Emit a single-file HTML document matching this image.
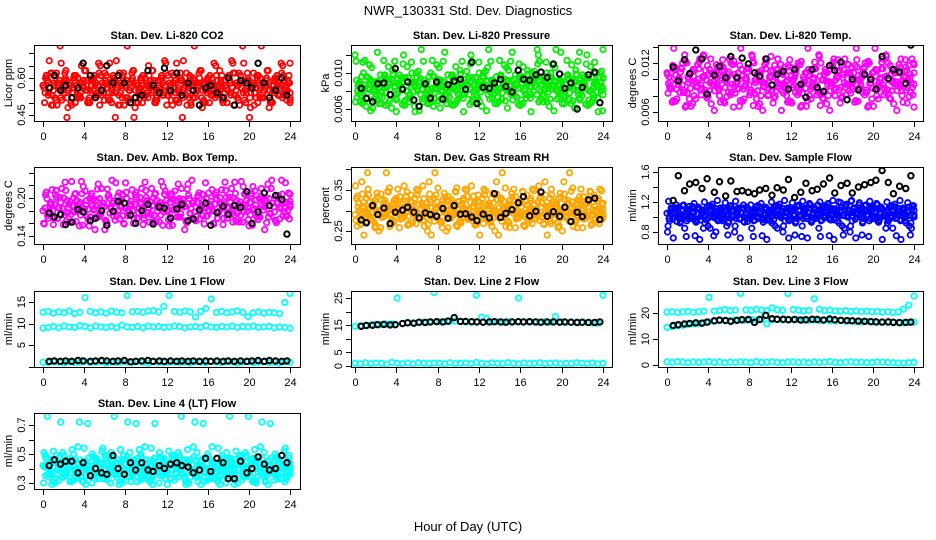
<!DOCTYPE html>
<html><head><meta charset="utf-8"><style>
html,body{margin:0;padding:0;background:#fff;}
svg{display:block;font-family:"Liberation Sans",sans-serif;}
</style></head><body>
<svg id="chart" width="936" height="540" xmlns="http://www.w3.org/2000/svg">
<rect width="936" height="540" fill="#fff"/>
<text x="468" y="15" text-anchor="middle" font-size="13">NWR_130331  Std. Dev. Diagnostics</text>
<text x="468" y="531" text-anchor="middle" font-size="13">Hour of Day (UTC)</text>
</svg>
<script>
const blackHours=[0.6,1.1,1.7,2.2,2.8,3.4,3.9,4.6,5.1,5.7,6.2,6.8,7.3,7.9,8.5,9.0,9.6,10.2,10.7,11.3,11.8,12.4,13.0,13.5,14.1,14.6,15.2,15.8,16.3,16.9,17.5,18.0,18.6,19.2,19.8,20.3,20.9,21.5,22.0,22.6,23.2,23.7];
const xTicks=[0,4,8,12,16,20,24];

const co2=[0.57,0.60,0.53,0.62,0.55,0.51,0.58,0.66,0.54,0.59,0.56,0.49,0.61,0.57,0.52,0.58,0.63,0.55,0.50,0.60,0.57,0.53,0.65,0.56,0.59,0.52,0.57,0.61,0.54,0.49,0.58,0.62,0.56,0.51,0.59,0.44,0.57,0.54,0.60,0.52,0.58,0.56,0.63,0.50,0.55,0.59,0.53,0.57,0.61,0.54,0.58,0.51,0.56,0.60,0.67,0.53,0.57,0.49,0.59,0.55,0.62,0.52,0.58,0.56,0.50,0.60,0.54,0.57,0.63,0.51,0.59,0.55,0.58,0.66,0.53,0.57,0.61,0.54,0.50,0.59,0.56,0.62,0.52,0.58,0.73,0.55,0.60,0.48,0.57,0.54,0.61,0.56,0.52,0.59,0.55,0.50];
const co2Black=[0.56,0.61,0.55,0.57,0.52,0.56,0.66,0.61,0.52,0.55,0.65,0.58,0.61,0.58,0.50,0.52,0.53,0.63,0.57,0.54,0.64,0.55,0.62,0.53,0.58,0.55,0.49,0.56,0.57,0.54,0.52,0.60,0.49,0.59,0.58,0.56,0.66,0.58,0.52,0.55,0.60,0.53];

const pressure=[0.0120,0.0080,0.0068,0.0112,0.0087,0.0095,0.0058,0.0082,0.0073,0.0090,0.0066,0.0114,0.0078,0.0093,0.0061,0.0085,0.0070,0.0098,0.0083,0.0064,0.0107,0.0076,0.0089,0.0057,0.0080,0.0094,0.0068,0.0086,0.0075,0.0100,0.0063,0.0082,0.0091,0.0071,0.0088,0.0066,0.0079,0.0097,0.0084,0.0069,0.0092,0.0113,0.0077,0.0087,0.0065,0.0095,0.0080,0.0072,0.0090,0.0085,0.0102,0.0076,0.0113,0.0088,0.0081,0.0068,0.0096,0.0087,0.0106,0.0079,0.0091,0.0084,0.0073,0.0098,0.0089,0.0082,0.0103,0.0076,0.0093,0.0086,0.0110,0.0070,0.0095,0.0088,0.0079,0.0100,0.0085,0.0126,0.0092,0.0077,0.0096,0.0083,0.0071,0.0109,0.0090,0.0081,0.0123,0.0075,0.0087,0.0094,0.0066,0.0082,0.0099,0.0072,0.0089,0.0095];
const pressureBlack=[0.0083,0.0072,0.0068,0.0088,0.0089,0.0076,0.0105,0.0082,0.0090,0.0070,0.0063,0.0088,0.0072,0.0090,0.0071,0.0087,0.0091,0.0093,0.0082,0.0112,0.0066,0.0084,0.0083,0.0089,0.0093,0.0085,0.0079,0.0103,0.0093,0.0092,0.0098,0.0101,0.0095,0.0110,0.0099,0.0083,0.0089,0.0060,0.0084,0.0098,0.0101,0.0067];

const temp=[0.0108,0.0091,0.0072,0.0115,0.0098,0.0084,0.0120,0.0066,0.0103,0.0089,0.0112,0.0076,0.0100,0.0093,0.0130,0.0083,0.0106,0.0070,0.0097,0.0118,0.0087,0.0102,0.0111,0.0079,0.0125,0.0094,0.0106,0.0088,0.0117,0.0073,0.0100,0.0109,0.0084,0.0122,0.0096,0.0067,0.0104,0.0091,0.0113,0.0081,0.0128,0.0099,0.0086,0.0108,0.0062,0.0095,0.0080,0.0110,0.0071,0.0102,0.0090,0.0118,0.0083,0.0097,0.0074,0.0105,0.0093,0.0114,0.0087,0.0068,0.0100,0.0109,0.0080,0.0096,0.0121,0.0089,0.0104,0.0077,0.0112,0.0094,0.0086,0.0115,0.0099,0.0124,0.0090,0.0106,0.0081,0.0118,0.0095,0.0108,0.0138,0.0088,0.0102,0.0113,0.0084,0.0120,0.0076,0.0098,0.0111,0.0092,0.0125,0.0103,0.0087,0.0117,0.0096,0.0108];
const tempBlack=[0.0115,0.0098,0.0124,0.0107,0.0136,0.0125,0.0082,0.0105,0.0116,0.0102,0.0128,0.0102,0.0126,0.0119,0.0108,0.0104,0.0125,0.0093,0.0106,0.0110,0.0088,0.0112,0.0094,0.0078,0.0112,0.0090,0.0085,0.0117,0.0111,0.0121,0.0075,0.0100,0.0087,0.0106,0.0100,0.0088,0.0128,0.0101,0.0112,0.0109,0.0095,0.0142];

const ambTemp=[0.180,0.205,0.168,0.193,0.158,0.212,0.185,0.174,0.200,0.163,0.190,0.226,0.178,0.196,0.156,0.207,0.183,0.170,0.199,0.188,0.150,0.214,0.176,0.192,0.165,0.203,0.186,0.172,0.224,0.181,0.195,0.160,0.209,0.177,0.190,0.168,0.201,0.184,0.215,0.173,0.196,0.162,0.188,0.206,0.179,0.193,0.157,0.211,0.182,0.170,0.198,0.187,0.222,0.175,0.192,0.164,0.204,0.183,0.195,0.171,0.208,0.186,0.159,0.199,0.179,0.213,0.190,0.168,0.201,0.184,0.225,0.176,0.194,0.162,0.207,0.185,0.173,0.218,0.189,0.166,0.203,0.181,0.197,0.170,0.215,0.186,0.161,0.199,0.228,0.178,0.193,0.167,0.206,0.184,0.172,0.190];
const ambTempBlack=[0.176,0.170,0.174,0.158,0.162,0.182,0.178,0.164,0.168,0.180,0.157,0.179,0.195,0.192,0.173,0.160,0.180,0.190,0.159,0.186,0.184,0.168,0.183,0.190,0.164,0.167,0.181,0.192,0.157,0.177,0.187,0.174,0.188,0.185,0.210,0.160,0.178,0.208,0.188,0.204,0.198,0.143];

const rh=[0.290,0.335,0.268,0.310,0.295,0.352,0.280,0.318,0.262,0.300,0.340,0.285,0.392,0.307,0.275,0.325,0.294,0.258,0.315,0.288,0.345,0.302,0.270,0.330,0.296,0.282,0.360,0.308,0.266,0.320,0.291,0.338,0.278,0.312,0.298,0.250,0.326,0.287,0.305,0.355,0.272,0.316,0.293,0.334,0.281,0.309,0.264,0.322,0.297,0.284,0.348,0.303,0.276,0.318,0.292,0.240,0.330,0.289,0.311,0.270,0.342,0.299,0.283,0.325,0.294,0.261,0.314,0.305,0.352,0.279,0.320,0.296,0.286,0.338,0.302,0.268,0.315,0.291,0.329,0.283,0.370,0.307,0.274,0.321,0.295,0.258,0.333,0.300,0.286,0.318,0.347,0.292,0.277,0.324,0.303,0.289];
const rhBlack=[0.277,0.270,0.312,0.290,0.306,0.268,0.296,0.301,0.308,0.296,0.282,0.294,0.290,0.286,0.305,0.281,0.312,0.291,0.292,0.284,0.275,0.291,0.282,0.341,0.283,0.293,0.302,0.319,0.334,0.287,0.298,0.345,0.286,0.297,0.286,0.308,0.273,0.296,0.285,0.326,0.330,0.278];

const sampleFlow=[1.05,0.95,1.12,1.00,1.08,0.92,1.15,1.03,0.98,1.10,1.06,0.94,1.13,1.01,0.85,1.07,0.99,1.14,0.75,1.04,0.96,1.09,1.02,0.88,1.11,1.00,0.80,1.06,0.97,1.12,1.03,0.94,1.08,1.01,1.10,0.98,1.05,0.93,1.13,1.02,1.07,0.96,1.15,1.04,0.99,1.11,1.06,0.95,1.09,1.02,1.14,1.00,0.88,1.07,0.72,1.12,1.03,0.98,1.16,0.74,1.08,1.01,1.18,0.96,1.10,1.05,1.20,1.13,1.02,1.17,1.08,1.22,1.11,1.04,1.19,0.76,1.15,1.09,1.21,1.12,1.06,1.16,0.99,1.10,1.03,0.95,1.14,1.07,0.98,1.11,0.70,1.05,0.92,1.13,0.85,1.02];
const sampleFlowBlack=[1.22,1.55,1.35,1.44,1.46,1.38,1.51,1.33,1.47,1.28,1.48,1.34,1.35,1.33,1.31,1.36,1.38,1.29,1.39,1.36,1.50,1.26,1.33,1.45,1.35,1.37,1.44,1.52,1.32,1.42,1.45,1.32,1.40,1.43,1.46,1.49,1.62,1.46,1.31,1.41,1.38,1.55];

const line1High=[12.6,12.8,12.4,12.7,12.5,12.9,12.3,12.6,16.0,12.8,12.5,12.7,12.4,12.9,12.6,12.5,16.5,12.7,12.8,12.6,12.9,13.0,12.7,14.0,16.5,12.8,12.6,12.9,12.7,11.5,12.8,13.5,15.7,12.6,12.8,12.5,12.7,12.9,12.6,11.6,12.5,12.7,12.4,12.6,12.5,12.3,14.9,17.0];
const line1Mid=[8.9,9.1,9.3,9.0,9.4,9.2,9.1,9.5,9.3,9.0,9.4,9.2,9.1,9.3,9.0,9.6,9.2,9.1,9.3,9.0,9.4,9.2,9.3,9.1,9.2,9.4,9.3,9.0,9.2,9.3,9.1,9.5,9.2,9.1,9.3,9.2,9.4,9.1,9.3,9.2,9.4,9.1,9.2,9.3,9.0,9.2,9.1,8.9];
const line1Low=[1.0,0.9,1.1,1.0,0.8,1.1,0.9,1.0,1.2,0.9,1.0,1.1,0.8,1.0,0.9,1.1,1.0,0.9,1.2,1.0,0.8,1.1,1.0,0.9,1.0,1.1,0.9,1.0,0.8,1.1,1.0,0.9,1.2,1.0,0.9,1.1,1.0,0.8,1.0,1.1,0.9,1.0,1.1,0.9,1.0,0.8,1.1,1.0];
const line1Black=[1.2,1.3,1.2,1.3,1.2,1.4,1.3,1.2,1.3,1.4,1.3,1.2,1.3,1.4,1.1,1.2,1.3,1.4,1.2,1.3,1.2,1.3,1.2,1.3,1.2,1.3,1.2,1.3,1.2,1.3,1.2,1.3,1.2,1.3,1.2,1.3,1.4,1.2,1.4,1.3,1.2,1.3];

const line2High=[14.6,14.8,15.0,15.1,15.3,15.2,15.4,15.5,25.0,15.7,15.8,15.9,16.0,16.2,16.1,27.0,16.3,16.2,16.4,16.5,16.3,16.2,16.1,26.0,18.0,17.5,16.2,16.3,16.1,16.4,16.2,25.0,16.3,16.1,16.2,16.0,16.3,16.1,18.2,16.2,16.0,16.1,16.2,15.9,16.0,15.8,15.7,26.0];
const line2Low=[1.0,0.8,1.2,0.9,1.1,1.0,0.7,1.3,1.0,0.9,1.1,0.8,1.2,1.0,0.9,1.1,1.0,0.8,1.2,0.9,1.0,1.1,0.9,1.3,1.0,0.8,1.1,1.0,0.9,1.2,1.0,0.8,1.1,0.9,1.0,1.2,0.9,1.0,1.1,0.8,1.0,0.9,1.2,1.0,0.9,1.1,0.8,1.0];
const line2Black=[14.6,14.9,15.0,15.2,15.3,15.1,15.2,15.6,15.9,15.7,16.1,16.0,16.2,16.3,16.2,16.5,17.8,16.4,16.4,16.3,16.2,16.1,16.2,16.3,16.2,16.1,16.2,16.3,16.2,16.3,16.2,16.1,16.2,16.2,16.1,16.2,16.1,16.0,16.1,16.0,16.0,16.2];

const line3High=[20.3,20.5,20.2,20.4,20.6,20.3,20.5,20.7,26.0,20.8,21.0,21.3,20.9,21.1,27.5,21.2,21.0,21.4,21.1,20.9,22.0,21.2,21.0,27.5,21.3,21.1,20.8,21.0,25.5,21.4,20.9,21.1,20.8,20.7,20.9,20.6,20.8,20.5,20.7,20.4,20.6,20.3,20.5,20.2,20.4,21.5,23.0,26.5];
const line3Mid=[14.5,14.8,15.0,15.3,15.5,15.8,16.0,16.3,16.6,16.8,17.0,17.2,17.1,17.3,17.4,17.2,17.5,17.3,17.6,15.8,17.4,17.5,17.3,17.6,17.4,17.5,17.3,17.2,17.4,17.1,17.3,17.0,16.9,17.1,16.8,16.9,16.7,16.6,16.8,16.5,16.4,16.6,16.3,16.5,16.4,16.2,16.3,16.5];
const line3Low=[1.2,1.0,1.3,1.1,0.9,1.2,1.0,1.1,1.3,1.0,1.2,0.9,1.1,1.0,1.2,1.1,0.9,1.3,1.0,1.1,1.2,1.0,0.9,1.1,1.2,1.0,1.1,0.9,1.2,1.0,1.1,1.3,1.0,0.9,1.1,1.2,1.0,1.1,0.9,1.0,1.2,1.1,1.0,0.9,0.8,0.7,0.9,1.0];
const line3Black=[15.2,15.5,15.8,16.0,16.2,16.1,16.5,17.0,17.3,17.1,16.8,17.2,17.4,17.5,16.4,17.5,19.1,17.8,17.6,17.6,17.4,17.5,17.3,17.4,17.6,17.5,17.3,17.7,17.4,17.2,17.1,17.0,16.9,16.8,16.7,16.6,16.5,16.6,16.4,16.3,16.4,16.5];

const line4=[0.42,0.35,0.47,0.38,0.52,0.33,0.44,0.40,0.49,0.36,0.43,0.31,0.46,0.39,0.72,0.34,0.45,0.41,0.37,0.50,0.33,0.43,0.38,0.54,0.35,0.42,0.30,0.47,0.40,0.36,0.44,0.49,0.32,0.41,0.45,0.37,0.43,0.53,0.34,0.39,0.46,0.31,0.42,0.71,0.38,0.48,0.35,0.44,0.40,0.33,0.47,0.37,0.51,0.42,0.36,0.29,0.44,0.39,0.48,0.34,0.41,0.46,0.31,0.43,0.38,0.55,0.35,0.42,0.29,0.47,0.40,0.37,0.45,0.33,0.43,0.39,0.49,0.36,0.41,0.76,0.34,0.46,0.30,0.43,0.38,0.51,0.35,0.42,0.47,0.32,0.40,0.44,0.37,0.31,0.45,0.39];
const line4Black=[0.42,0.46,0.43,0.45,0.45,0.37,0.44,0.35,0.40,0.37,0.36,0.49,0.40,0.36,0.44,0.39,0.44,0.39,0.38,0.42,0.40,0.43,0.44,0.42,0.41,0.37,0.39,0.47,0.38,0.47,0.44,0.33,0.33,0.45,0.37,0.40,0.48,0.43,0.39,0.40,0.49,0.44];

const cols=[{bl:34,br:300,x0:43,x24:290},{bl:351,br:612,x0:355,x24:603},{bl:658,br:923,x0:667,x24:914}];
const rows=[{bt:45,bb:121},{bt:167,bb:244},{bt:291,bb:367},{bt:413,bb:489}];

const panels=[
 {name:'co2',title:'Stan. Dev. Li-820 CO2',ylab:'Licor ppm',c:0,r:0,cal:[0.45,115,0.60,78],ticks:[0.45,0.50,0.55,0.60,0.65,0.70],labels:['0.45','0.60'],series:[[co2,'#ff0000',5]],black:co2Black},
 {name:'pressure',title:'Stan. Dev. Li-820 Pressure',ylab:'kPa',c:1,r:0,cal:[0.006,109,0.010,73],ticks:[0.006,0.008,0.010,0.012],labels:['0.006','0.010'],series:[[pressure,'#00ee00',5]],black:pressureBlack},
 {name:'temp',title:'Stan. Dev. Li-820 Temp.',ylab:'degrees C',c:2,r:0,cal:[0.006,112,0.012,63],ticks:[0.006,0.008,0.010,0.012,0.014],labels:['0.006','0.012'],series:[[temp,'#ff00ff',5]],black:tempBlack},
 {name:'amb-box-temp',title:'Stan. Dev. Amb. Box Temp.',ylab:'degrees C',c:0,r:1,cal:[0.14,236,0.20,198],ticks:[0.14,0.16,0.18,0.20,0.22,0.24],labels:['0.14','0.20'],series:[[ambTemp,'#ff00ff',4]],black:ambTempBlack},
 {name:'gas-stream-rh',title:'Stan. Dev. Gas Stream RH',ylab:'percent',c:1,r:1,cal:[0.25,231,0.35,190],ticks:[0.25,0.30,0.35,0.40],labels:['0.25','0.35'],series:[[rh,'#ffa500',5]],black:rhBlack},
 {name:'sample-flow',title:'Stan. Dev. Sample Flow',ylab:'ml/min',c:2,r:1,cal:[0.8,232,1.6,172],ticks:[0.8,1.0,1.2,1.4,1.6],labels:['0.8','1.2','1.6'],series:[[sampleFlow,'#0000ff',5]],black:sampleFlowBlack},
 {name:'line1-flow',title:'Stan. Dev. Line 1 Flow',ylab:'ml/min',c:0,r:2,cal:[5,345,15,302],ticks:[0,5,10,15],labels:['5','10','15'],series:[[line1High,'#00ffff',1],[line1Mid,'#00ffff',1],[line1Low,'#00ffff',1]],black:line1Black},
 {name:'line2-flow',title:'Stan. Dev. Line 2 Flow',ylab:'ml/min',c:1,r:2,cal:[0,366,25,298],ticks:[0,5,10,15,20,25],labels:['0','5','15','25'],series:[[line2High,'#00ffff',1],[line2Low,'#00ffff',1]],black:line2Black},
 {name:'line3-flow',title:'Stan. Dev. Line 3 Flow',ylab:'ml/min',c:2,r:2,cal:[0,365,20,313],ticks:[0,10,20],labels:['0','10','20'],series:[[line3High,'#00ffff',1],[line3Mid,'#00ffff',1],[line3Low,'#00ffff',1]],black:line3Black},
 {name:'line4-flow',title:'Stan. Dev. Line 4 (LT) Flow',ylab:'ml/min',c:0,r:3,cal:[0.3,483,0.7,425],ticks:[0.3,0.4,0.5,0.6,0.7],labels:['0.3','0.5','0.7'],series:[[line4,'#00ffff',5]],black:line4Black}
];

const NS='http://www.w3.org/2000/svg';
const svg=document.getElementById('chart');
function mk(tag,attrs,parent){const e=document.createElementNS(NS,tag);for(const k in attrs)e.setAttribute(k,attrs[k]);parent.appendChild(e);return e;}

panels.forEach(p=>{
 const C=cols[p.c],R=rows[p.r];
 const xs=h=>C.x0+(C.x24-C.x0)*h/24;
 const [v1,p1,v2,p2]=p.cal;
 const ys=v=>p1+(v-v1)*(p2-p1)/(v2-v1);
 const g=mk('g',{},svg);
 
 
 const clipId='clip-'+p.name;
 const cp=mk('clipPath',{id:clipId},g);
 mk('rect',{x:C.bl,y:R.bt,width:C.br-C.bl,height:R.bb-R.bt},cp);
 const t=mk('text',{x:(C.bl+C.br)/2,y:R.bt-6,'text-anchor':'middle','font-size':'11','font-weight':'bold'},g);
 t.textContent=p.title;
 
 
 const pts=mk('g',{'clip-path':'url(#'+clipId+')',fill:'none','stroke-width':'1.8'},g);
 
 
 p.series.forEach(([arr,col,passes],si)=>{
  const n=arr.length;
  for(let k=0;k<passes;k++){
   const shift=Math.floor(k*n/passes)+k*7;
   for(let i=0;i<n;i++){
    const v=arr[(i+shift)%n];
    const h=Math.min(24,Math.max(0,(i+k/passes)*24/(n-1)));
    const c=mk('circle',{cx:xs(h),cy:ys(v),r:2.7,stroke:col},pts);
    
    
   }
  }
 });
 p.black.forEach((v,i)=>{
  const c=mk('circle',{cx:xs(blackHours[i]),cy:ys(v),r:2.7,stroke:'#000','stroke-width':'2'},pts);
  
  
 });
 const box=mk('rect',{x:C.bl+0.5,y:R.bt+0.5,width:C.br-C.bl,height:R.bb-R.bt,fill:'none',stroke:'#000','stroke-width':'1'},g);
 
 
 xTicks.forEach(h=>{
  const x=Math.round(xs(h))+0.5;
  mk('line',{x1:x,x2:x,y1:R.bb+0.5,y2:R.bb+6,stroke:'#000'},g);
  const tl=mk('text',{x:x,y:R.bb+19,'text-anchor':'middle','font-size':'11'},g);
  tl.textContent=h;
  
  
 });
 p.ticks.forEach(v=>{
  const y=Math.round(ys(v))+0.5;
  mk('line',{x1:C.bl-5,x2:C.bl+0.5,y1:y,y2:y,stroke:'#000'},g);
 });
 p.labels.forEach(s=>{
  const y=ys(parseFloat(s));
  const tl=mk('text',{x:0,y:0,'text-anchor':'middle','font-size':'11',transform:'translate('+(C.bl-9)+','+y+') rotate(-90)'},g);
  tl.textContent=s;
  
  
 });
 const yl=mk('text',{x:0,y:0,'text-anchor':'middle','font-size':'11',transform:'translate('+(C.bl-22)+','+((R.bt+R.bb)/2)+') rotate(-90)'},g);
 yl.textContent=p.ylab;
 
 
});
</script>
</body></html>
